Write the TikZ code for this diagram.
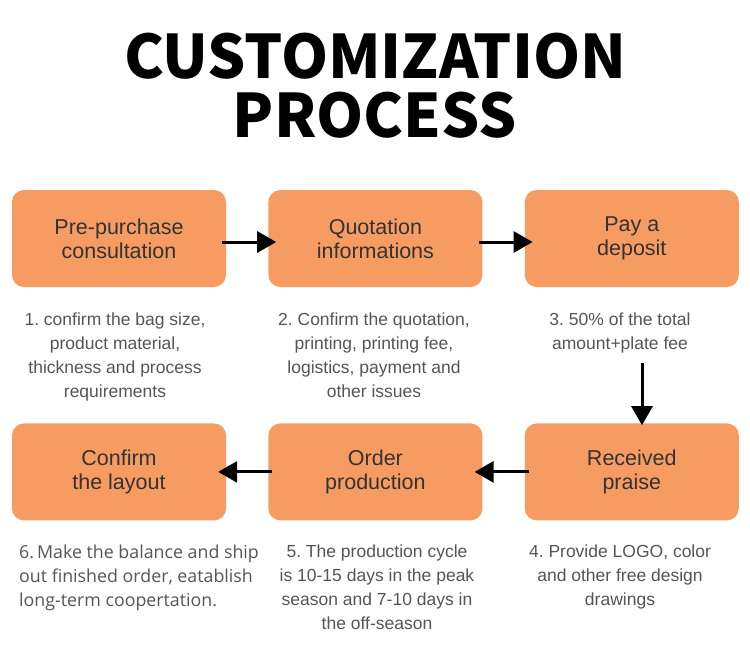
\documentclass[tikz,border=0pt]{standalone}
\usepackage{fontspec}
\setmainfont{Liberation Sans}
\IfFontExistsTF{Noto Sans CJK SC Black}
  {\newfontfamily\titlefont{Noto Sans CJK SC Black}}
  {\newfontfamily\titlefont{Noto Sans CJK SC}[UprightFont=* Bold]}
\newfontfamily\descsix{Open Sans}
\usetikzlibrary{positioning,arrows.meta}
\definecolor{boxfill}{HTML}{F69C62}
\definecolor{boxtext}{HTML}{333333}
\definecolor{desctext}{HTML}{555555}
\frenchspacing
\begin{document}
\begin{tikzpicture}[x=1pt, y=-1pt, >={Triangle[length=19pt,width=21pt]},
  stepbox/.style={fill=boxfill, rounded corners=12pt, minimum width=214pt, minimum height=97pt,
    inner sep=0pt, align=center, text=boxtext, font=\fontsize{21.5}{24}\selectfont},
  desc/.style={inner sep=0pt, align=center, text=desctext, font=\fontsize{17.5}{24}\selectfont},
  flow/.style={->, line width=3pt, shorten <=-4pt, shorten >=-8pt}]
\useasboundingbox (0,0) rectangle (750,646);
% title
\node[anchor=base, font=\titlefont\fontsize{60}{60}\selectfont] (title1) at (375,78) {CUSTOMIZATION};
\node[anchor=base, font=\titlefont\fontsize{60}{60}\selectfont] (title2) at (375,137) {PROCESS};
% first row
\node[stepbox] (b1) at (119,238.5) {Pre-purchase\\consultation};
\node[stepbox, right=42pt of b1] (b2) {Quotation\\informations};
\node[stepbox, right=42pt of b2] (b3) {Pay a\\deposit};
% second row
\node[stepbox, below=136pt of b3] (b4) {Received\\praise};
\node[stepbox, left=42pt of b4] (b5) {Order\\production};
\node[stepbox, left=42pt of b5] (b6) {Confirm\\the layout};
% notes
\node[desc, anchor=north] (d1) at (115,313) {1. confirm the bag size,\\product material,\\thickness and process\\requirements};
\node[desc, anchor=north] (d2) at (374,313) {2. Confirm the quotation,\\printing, printing fee,\\logistics, payment and\\other issues};
\node[desc, anchor=north] (d3) at (620,313) {3. 50\% of the total\\amount+plate fee};
\node[desc, anchor=north] (d4) at (620,545) {4. Provide LOGO, color\\and other free design\\drawings};
\node[desc, anchor=north] (d5) at (377,545) {5. The production cycle\\is 10-15 days in the peak\\season and 7-10 days in\\the off-season};
\node[desc, align=left, anchor=north west, font=\descsix\fontsize{17.8}{24}\selectfont] (d6) at (19,545) {6.\,Make the balance and ship\\out finished order, eatablish\\long-term coopertation.};
% arrows
\coordinate (down) at (642,363);
\draw[flow] ([yshift=-3.5pt]b1.east) -- ([yshift=-3.5pt]b2.west);
\draw[flow] ([yshift=-3.5pt]b2.east) -- ([yshift=-3.5pt]b3.west);
\draw[->, line width=3pt, shorten >=-2pt] (down) -- (down |- b4.north);
\draw[flow] (b4.west) -- (b5.east);
\draw[flow] (b5.west) -- (b6.east);
\end{tikzpicture}
\end{document}
